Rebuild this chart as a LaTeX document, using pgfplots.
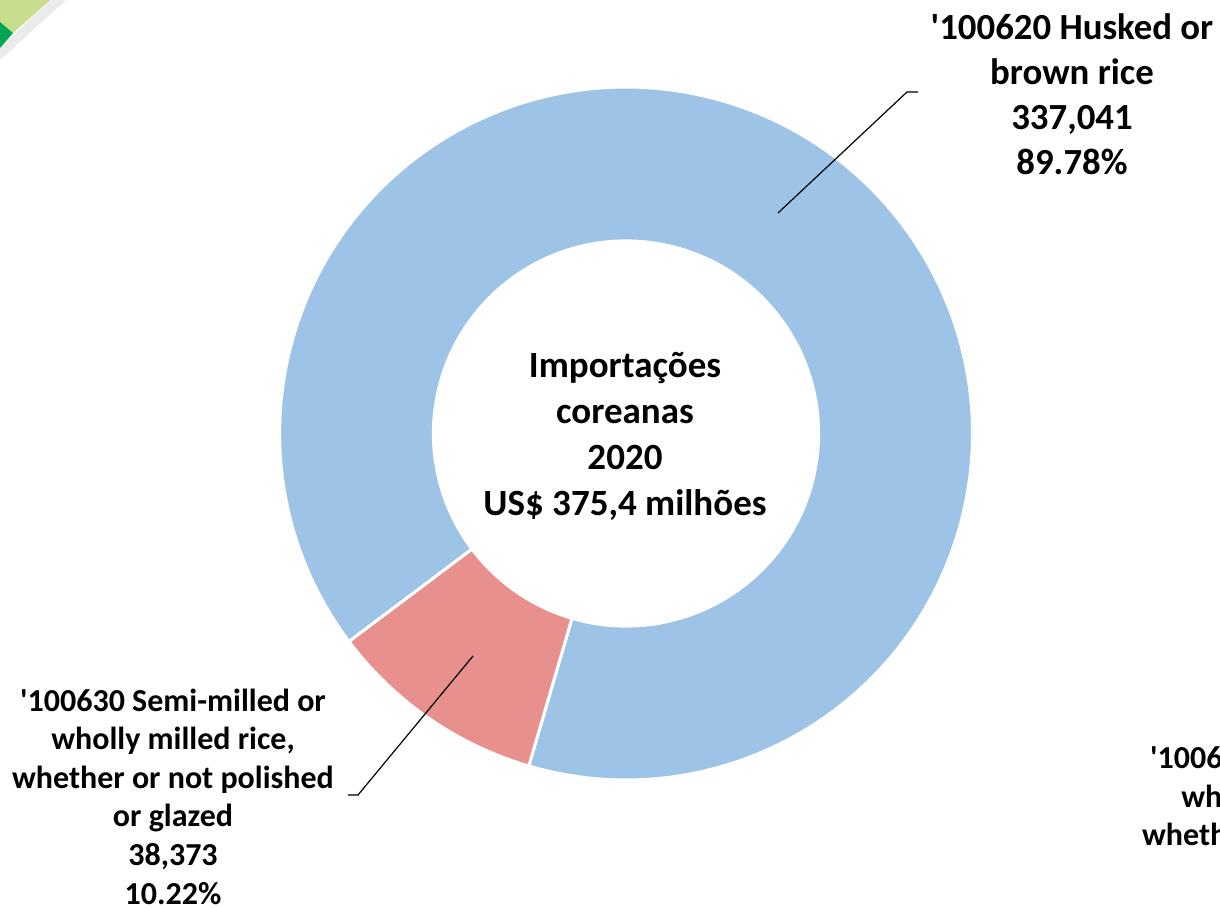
\documentclass[border=0pt]{standalone}
\usepackage{pgfplots}
\pgfplotsset{compat=1.18}
\usepackage{pgfplotstable}
\usepackage{fontspec}
\setmainfont{Carlito}
\usetikzlibrary{calc}

\definecolor{husk}{RGB}{157,195,230}
\definecolor{semi}{RGB}{232,144,142}
\definecolor{lgreen}{RGB}{200,222,142}
\definecolor{dgreen}{RGB}{0,166,81}

% Korean rice imports 2020, US$ thousand
\pgfplotstableread{
code   value
100620 337041
100630 38373
}\ricedata

\begin{document}
\begin{tikzpicture}
\pgfplotstablegetelem{0}{value}\of\ricedata \let\va\pgfplotsretval
\pgfplotstablegetelem{1}{value}\of\ricedata \let\vb\pgfplotsretval
\edef\first{253.7}% angle where the first slice starts (counter-clockwise)
\edef\aa{\fpeval{\first+360*\va/(\va+\vb)}}
\edef\ab{\fpeval{\aa+360*\vb/(\va+\vb)}}
\def\Rout{173.2pt}
\def\Rin{96.3pt}
\def\q{\textquotesingle}
\begin{axis}[
  x=0.5pt, y=0.5pt,
  xmin=0, xmax=1220, ymin=0, ymax=907,
  hide axis, clip=false,
  at={(0pt,0pt)}, anchor=origin,
]
% corner decoration
\fill[black, opacity=0.08] (axis cs:50,907) -- (axis cs:66,907) -- (axis cs:0,847) -- (axis cs:0,859) -- cycle;
\fill[lgreen] (axis cs:0,907) -- (axis cs:50,907) -- (axis cs:13,874) -- (axis cs:0,885) -- cycle;
\fill[dgreen] (axis cs:0,885) -- (axis cs:13,874) -- (axis cs:0,859) -- cycle;
% donut slices
\coordinate (c) at (axis cs:626,473.5);
\fill[husk, draw=white, line width=1.5pt]
  ($(c)+(\first:\Rout)$) arc[start angle=\first, end angle=\aa, radius=\Rout]
  -- ($(c)+(\aa:\Rin)$) arc[start angle=\aa, end angle=\first, radius=\Rin] -- cycle;
\fill[semi, draw=white, line width=1.5pt]
  ($(c)+(\aa:\Rout)$) arc[start angle=\aa, end angle=\ab, radius=\Rout]
  -- ($(c)+(\ab:\Rin)$) arc[start angle=\ab, end angle=\aa, radius=\Rin] -- cycle;
% leader lines
\draw[black, line width=0.6pt] (axis cs:778,694) -- (axis cs:907,815) -- (axis cs:918,815);
\draw[black, line width=0.6pt] (axis cs:473,251) -- (axis cs:358,112) -- (axis cs:348,112);
% labels
\node[align=center, font=\bfseries\fontsize{18.5}{23}\selectfont] at (axis cs:625,470.5)
  {Importações\\coreanas\\2020\\US\$ 375,4 milhões};
\node[align=center, font=\bfseries\fontsize{18.4}{22.5}\selectfont] at (axis cs:1072,812.5)
  {\q100620 Husked or\\brown rice\\337,041\\89.78\%};
\node[align=center, font=\bfseries\fontsize{16}{19.3}\selectfont] at (axis cs:173,110.5)
  {\q100630 Semi-milled or\\wholly milled rice,\\whether or not polished\\or glazed\\38,373\\10.22\%};
\node[align=center, font=\bfseries\fontsize{16}{19.3}\selectfont] at (axis cs:1303,53)
  {\q100640 Semi-milled or\\wholly milled rice,\\whether or not polished\\or glazed\\0\\0.00\%};
\end{axis}
\pgfresetboundingbox
\useasboundingbox (0pt,0pt) rectangle (610pt,453.5pt);
\end{tikzpicture}
\end{document}
